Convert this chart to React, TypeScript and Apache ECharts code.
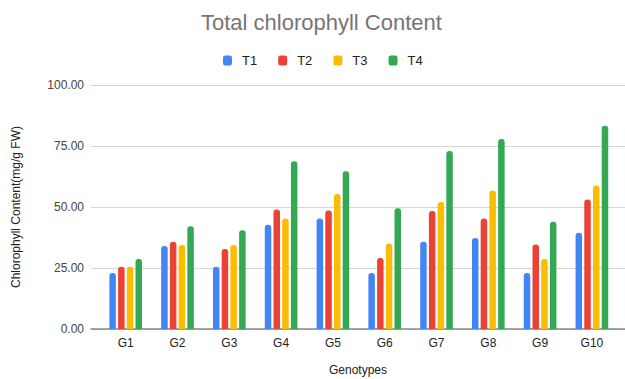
import React, { useEffect, useRef } from "react";
import * as echarts from "echarts";

const genotypes = ["G1", "G2", "G3", "G4", "G5", "G6", "G7", "G8", "G9", "G10"];
const t1 = [22.9, 34.0, 25.5, 42.7, 45.3, 22.9, 35.8, 37.3, 22.9, 39.4];
const t2 = [25.5, 35.8, 32.8, 49.0, 48.6, 29.1, 48.4, 45.3, 34.6, 53.1];
const t3 = [25.5, 34.4, 34.4, 45.3, 55.3, 35.0, 52.0, 56.8, 28.7, 58.8];
const t4 = [28.7, 42.1, 40.5, 68.7, 64.7, 49.5, 72.9, 77.9, 44.0, 83.3];
const seriesNames = ["T1", "T2", "T3", "T4"];
const seriesColors = ["#4285f4", "#ea4335", "#fbbc04", "#34a853"];
const yTicks = { min: 0, max: 100, interval: 25 };

const FONT = "'Liberation Sans', Arial, sans-serif";

export default function App() {
  const ref = useRef<HTMLDivElement>(null);

  useEffect(() => {
    document.body.style.margin = "0";
    if (!ref.current) return;
    const chart = echarts.init(ref.current, null, { renderer: "svg" });
    const values = [t1, t2, t3, t4];
    chart.setOption({
      animation: false,
      textStyle: { fontFamily: FONT },
      title: {
        text: "Total chlorophyll Content",
        left: 201,
        top: 11,
        padding: 0,
        textStyle: { fontFamily: FONT, fontSize: 22, fontWeight: "normal", color: "#757575" },
      },
      legend: {
        top: 54,
        left: 223,
        padding: 0,
        itemWidth: 9,
        itemHeight: 10,
        itemGap: 21,
        icon: "roundRect",
        textStyle: { fontFamily: FONT, fontSize: 13, color: "#222", padding: [0, 0, 0, 5] },
        data: seriesNames,
      },
      grid: [
        { left: 91, right: 0, top: 85, bottom: 50, outerBoundsMode: "none", containLabel: false },
        { left: 99.8, right: 7.2, top: 85, bottom: 50, outerBoundsMode: "none", containLabel: false },
      ],
      xAxis: [
        {
          gridIndex: 0,
          type: "value",
          min: 0,
          max: 1,
          axisLine: { show: true, lineStyle: { color: "#888", width: 1.5 } },
          axisTick: { show: false },
          axisLabel: { show: false },
          splitLine: { show: false },
          name: "Genotypes",
          nameLocation: "middle",
          nameGap: 35,
          nameTextStyle: { fontFamily: FONT, fontSize: 12, color: "#222" },
        },
        {
          gridIndex: 1,
          type: "category",
          data: genotypes,
          axisLine: { show: false },
          axisTick: { show: false },
          axisLabel: { fontFamily: FONT, fontSize: 12, color: "#222", margin: 8 },
        },
      ],
      yAxis: [
        {
          gridIndex: 0,
          type: "value",
          min: yTicks.min,
          max: yTicks.max,
          interval: yTicks.interval,
          axisLine: { show: false },
          axisTick: { show: false },
          axisLabel: {
            fontFamily: FONT,
            fontSize: 12,
            color: "#444",
            margin: 7,
            formatter: (v: number) => v.toFixed(2),
          },
          splitLine: { lineStyle: { color: "#d6d6d6", width: 1 } },
          name: "Chlorophyll Content(mg/g FW)",
          nameLocation: "middle",
          nameGap: 69,
          nameTextStyle: { fontFamily: FONT, fontSize: 12, color: "#222" },
        },
        {
          gridIndex: 1,
          type: "value",
          min: yTicks.min,
          max: yTicks.max,
          interval: yTicks.interval,
          show: false,
        },
      ],
      series: seriesNames.map((name, i) => ({
        name,
        type: "bar",
        xAxisIndex: 1,
        yAxisIndex: 1,
        data: values[i],
        barWidth: 6.5,
        barGap: "34%",
        itemStyle: { color: seriesColors[i], borderRadius: [3, 3, 0, 0] },
      })),
    });
    return () => chart.dispose();
  }, []);

  return <div ref={ref} style={{ width: 625, height: 379 }} />;
}
